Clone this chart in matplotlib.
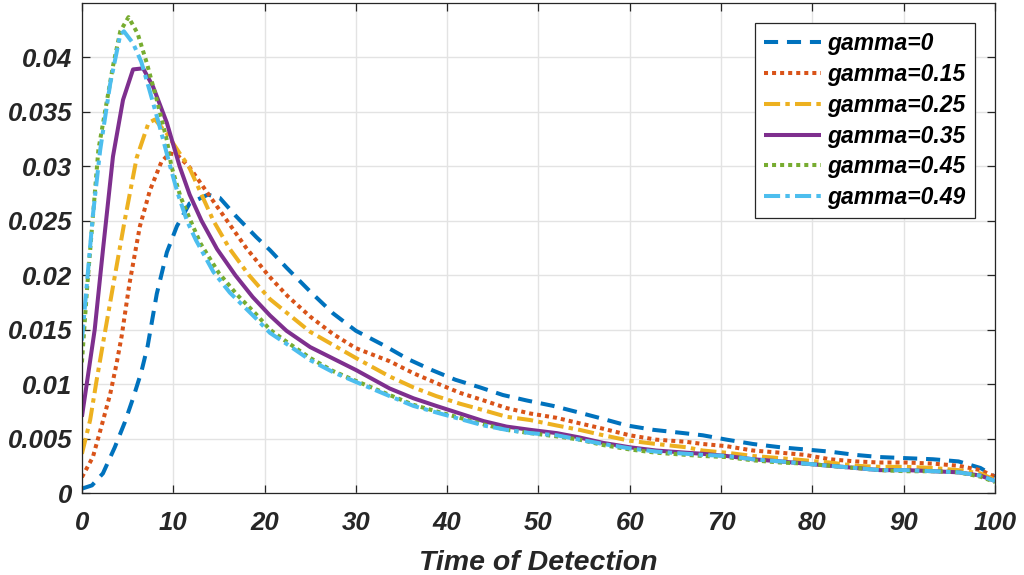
import matplotlib
matplotlib.use("Agg")
import matplotlib.pyplot as plt

# ---------------- data ----------------
x_g0 = [0, 1.1, 2.3, 3.6, 4.7, 5.6, 6.5, 7.2, 8.2, 9.3, 10.4, 11.8, 13.8, 15.1, 16.9, 19.1, 20.6,
        22.4, 25, 27.5, 30, 33.2, 35.7, 38.3, 40.9, 43.6, 46.1, 48.7, 51.6, 54.4, 57.1, 59.7,
        62.6, 65.9, 68, 70.6, 73.5, 76.5, 79.2, 81.9, 84.7, 87.4, 90.3, 93.2, 96, 98.4, 100]
y_g0 = [0.0004, 0.0007, 0.0018, 0.0042, 0.0065, 0.0087, 0.0111, 0.0135, 0.0183, 0.0221, 0.0245,
        0.0266, 0.0274, 0.0271, 0.0254, 0.0235, 0.0223, 0.0207, 0.0185, 0.0165, 0.0149, 0.0135,
        0.0123, 0.0113, 0.0104, 0.0097, 0.0090, 0.0085, 0.0080, 0.0074, 0.0068, 0.0062, 0.0058,
        0.0055, 0.0053, 0.0049, 0.0045, 0.0042, 0.0040, 0.0038, 0.0035, 0.0033, 0.0032, 0.0031,
        0.0029, 0.0023, 0.0015]

x_g015 = [0, 1.2, 2.1, 3.1, 3.8, 4.35, 5.2, 6.35, 7.45, 8.7, 9.6, 10.5, 11.8, 13.8, 15.9, 18,
          20.4, 22.5, 25, 27.5, 30, 33.7, 36.3, 38.8, 41.4, 44, 46.5, 49.1, 52, 54.5, 57.1, 60,
          62.9, 66.2, 68, 70.6, 73.5, 76.5, 79.2, 81.9, 84.7, 87.4, 90.3, 93.2, 96, 98.4, 100]
y_g015 = [0.00145, 0.0033, 0.0060, 0.0091, 0.0119, 0.0144, 0.0192, 0.0245, 0.0278, 0.0304, 0.0312,
          0.0310, 0.0299, 0.0275, 0.0250, 0.0225, 0.0200, 0.0181, 0.0162, 0.0146, 0.0133, 0.0121,
          0.0110, 0.0101, 0.0092, 0.0085, 0.0078, 0.0073, 0.0069, 0.0064, 0.0059, 0.0053, 0.0049,
          0.0047, 0.0045, 0.0043, 0.0039, 0.0037, 0.0035, 0.0031, 0.0029, 0.0028, 0.0028, 0.0027,
          0.0025, 0.0021, 0.0015]

x_g025 = [0, 0.9, 1.6, 2.3, 3.45, 4.7, 6, 7.3, 8, 9.3, 10.7, 11.7, 14.4, 16.2, 18.3, 20.6, 25, 30,
          33.7, 36.3, 38.8, 41.4, 44, 46.5, 49.1, 52, 54.5, 57.1, 60, 62.9, 66.2, 68, 70.6, 73.5,
          76.5, 79.2, 81.9, 84.7, 87.4, 90.3, 93.2, 96, 98.4, 100]
y_g025 = [0.0036, 0.0067, 0.0103, 0.0137, 0.0192, 0.0251, 0.0308, 0.0340, 0.0343, 0.0330, 0.0312,
          0.0300, 0.0250, 0.0224, 0.0200, 0.0178, 0.0148, 0.0124, 0.0107, 0.0097, 0.0089, 0.0082,
          0.0076, 0.0070, 0.0067, 0.0062, 0.0058, 0.0053, 0.0048, 0.0045, 0.0042, 0.0039, 0.0037,
          0.0034, 0.0032, 0.0030, 0.0028, 0.0025, 0.0024, 0.0024, 0.0023, 0.0021, 0.0018, 0.0012]

x_g035 = [0, 0.7, 1.4, 2.3, 3.4, 4.5, 5.6, 6.7, 7.8, 9.3, 10.7, 11.8, 13.1, 14.8, 16.8, 18.7,
          20.6, 22.4, 25, 30, 33.7, 36.3, 38.8, 41.4, 44, 46.5, 49.1, 52, 54.5, 57.1, 60, 62.9,
          66.2, 68, 70.6, 73.5, 76.5, 79.2, 81.9, 84.7, 87.4, 90.3, 93.2, 96, 98.4, 100]
y_g035 = [0.0070, 0.0110, 0.0150, 0.0223, 0.0309, 0.0361, 0.0389, 0.0390, 0.0373, 0.0340, 0.0300,
          0.0274, 0.0250, 0.0224, 0.0200, 0.0180, 0.0163, 0.0149, 0.0134, 0.0113, 0.0096, 0.0087,
          0.0080, 0.0073, 0.0066, 0.0061, 0.0058, 0.0055, 0.0051, 0.0046, 0.0042, 0.0039, 0.0037,
          0.0036, 0.0034, 0.0031, 0.0029, 0.0027, 0.0025, 0.0023, 0.0021, 0.0021, 0.0020, 0.0019,
          0.0016, 0.0011]

x_g045 = [0, 0.6, 1.8, 3.4, 4.2, 5.1, 6.1, 7.1, 8.2, 9.3, 9.8, 10.8, 11.8, 13, 15, 17, 19.1,
          20.6, 22.4, 25, 27.5, 30, 33.7, 36.3, 38.8, 41.4, 44, 46.5, 49.1, 52, 54.5, 57.1, 60,
          62.9, 66.2, 68, 70.6, 73.5, 76.5, 79.2, 81.9, 84.7, 87.4, 90.3, 93.2, 96, 98.4, 100]
y_g045 = [0.0120, 0.0192, 0.0315, 0.0392, 0.0424, 0.0437, 0.0422, 0.0395, 0.0361, 0.0324, 0.0300,
          0.0272, 0.0252, 0.0229, 0.0202, 0.0182, 0.0164, 0.0150, 0.0139, 0.0124, 0.0112, 0.0103,
          0.0090, 0.0081, 0.0075, 0.0069, 0.0063, 0.0058, 0.0055, 0.0052, 0.0049, 0.0044, 0.0040,
          0.0037, 0.0035, 0.0034, 0.0033, 0.0030, 0.0028, 0.0027, 0.0025, 0.0023, 0.0021, 0.0020,
          0.0020, 0.0019, 0.0015, 0.0010]

x_g049 = [0, 0.45, 1.2, 2, 3.1, 4.2, 4.6, 5.6, 6.5, 7.4, 8.5, 9.6, 10.5, 11.5, 12.5, 14.4, 16.2,
          19.1, 20.6, 22.4, 25, 27.5, 30, 33.7, 36.3, 38.8, 41.4, 44, 46.5, 49.1, 52, 54.5, 57.1,
          60, 62.9, 66.2, 68, 70.6, 73.5, 76.5, 79.2, 81.9, 84.7, 87.4, 90.3, 93.2, 96, 98.4, 100]
y_g049 = [0.0140, 0.0183, 0.0255, 0.0315, 0.0376, 0.0421, 0.0424, 0.0413, 0.0396, 0.0370, 0.0337,
          0.0302, 0.0275, 0.0250, 0.0232, 0.0203, 0.0184, 0.0160, 0.0147, 0.0137, 0.0122, 0.0111,
          0.0102, 0.0089, 0.0080, 0.0074, 0.0068, 0.0062, 0.0058, 0.0055, 0.0053, 0.0049, 0.0045,
          0.0041, 0.0038, 0.0036, 0.0035, 0.0034, 0.0031, 0.0029, 0.0027, 0.0025, 0.0023, 0.0021,
          0.0021, 0.0020, 0.0019, 0.0016, 0.0011]

labels = ["gamma=0", "gamma=0.15", "gamma=0.25", "gamma=0.35", "gamma=0.45", "gamma=0.49"]
xticks = [0, 10, 20, 30, 40, 50, 60, 70, 80, 90, 100]
yticks = [0, 0.005, 0.01, 0.015, 0.02, 0.025, 0.03, 0.035, 0.04]
ytick_labels = ["0", "0.005", "0.01", "0.015", "0.02", "0.025", "0.03", "0.035", "0.04"]

# ---------------- style ----------------
colors = ["#0072BD", "#D95319", "#EDB120", "#7E2F8E", "#77AC30", "#4DBEEE"]
styles = [(0, (3.5, 2.2)), (0, (1.0, 1.0)), (0, (4.0, 1.3, 1.1, 1.3)), "-",
          (0, (1.0, 1.0)), (0, (4.0, 1.3, 1.1, 1.3))]
FONT = "Liberation Sans"
AX_COL = "#262626"

fig = plt.figure(figsize=(10.24, 5.75), dpi=100)
ax = fig.add_axes([0.080, 0.1426, 0.8917, 0.8522])

series = [(x_g0, y_g0), (x_g015, y_g015), (x_g025, y_g025),
          (x_g035, y_g035), (x_g045, y_g045), (x_g049, y_g049)]
for (xs, ys), c, ls, lab in zip(series, colors, styles, labels):
    ax.plot(xs, ys, color=c, linestyle=ls, linewidth=2.9, label=lab,
            dash_capstyle="butt", solid_capstyle="butt")

ax.set_xlim(0, 100)
ax.set_ylim(0, 0.045)
ax.set_xticks(xticks)
ax.set_yticks(yticks)
ax.set_yticklabels(ytick_labels)
ax.grid(True, color="#e3e3e3", linewidth=1.0)
ax.set_axisbelow(True)

for s in ax.spines.values():
    s.set_color(AX_COL)
    s.set_linewidth(0.9)

ax.tick_params(axis="both", direction="in", length=6, width=0.9, color=AX_COL,
               top=True, right=True, labelcolor=AX_COL)
ax.tick_params(axis="x", pad=13)
ax.tick_params(axis="y", pad=7)
for lab in ax.get_xticklabels() + ax.get_yticklabels():
    lab.set_fontfamily(FONT)
    lab.set_fontweight("bold")
    lab.set_fontstyle("italic")
    lab.set_fontsize(18.5)

ax.set_xlabel("Time of Detection", fontfamily=FONT, fontweight="bold", fontstyle="italic",
              fontsize=20.5, color=AX_COL, labelpad=11)

leg = ax.legend(loc="upper right", bbox_to_anchor=(0.978, 0.959),
                prop={"family": FONT, "weight": "bold", "style": "italic", "size": 16.5},
                frameon=True, fancybox=False, framealpha=1, edgecolor=AX_COL,
                handlelength=2.45, handletextpad=0.3, labelspacing=0.34,
                borderpad=0.4, borderaxespad=0)
leg.get_frame().set_linewidth(0.9)

fig.savefig("out.png", dpi=100)
